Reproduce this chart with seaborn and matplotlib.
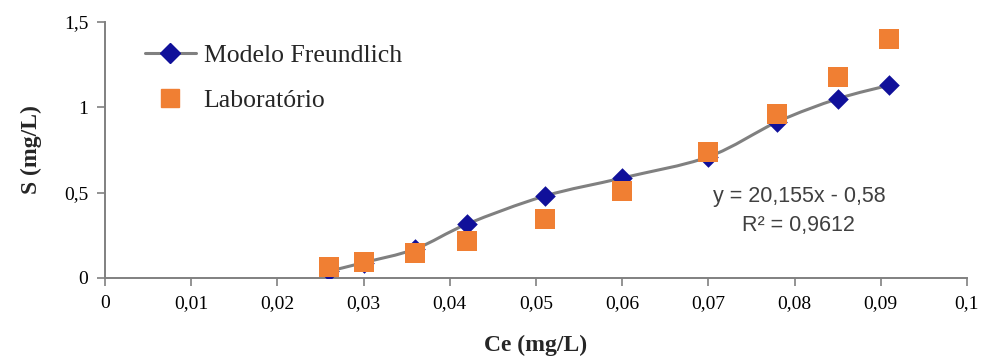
import numpy as np
import pandas as pd
import matplotlib
matplotlib.use("Agg")
import matplotlib.pyplot as plt
import seaborn as sns
from matplotlib.path import Path
from matplotlib.patches import PathPatch
from matplotlib.lines import Line2D

ce = [0.026, 0.030, 0.036, 0.042, 0.051, 0.060, 0.070, 0.078, 0.085, 0.091]
s_freundlich = [0.04, 0.09, 0.17, 0.316, 0.48, 0.586, 0.71, 0.915, 1.05, 1.13]
s_lab = [0.064, 0.094, 0.146, 0.217, 0.346, 0.51, 0.738, 0.96, 1.18, 1.40]
x_ticks = [0, 0.01, 0.02, 0.03, 0.04, 0.05, 0.06, 0.07, 0.08, 0.09, 0.1]
x_tick_labels = ["0", "0,01", "0,02", "0,03", "0,04", "0,05", "0,06", "0,07", "0,08", "0,09", "0,1"]
y_ticks = [0, 0.5, 1, 1.5]
y_tick_labels = ["0", "0,5", "1", "1,5"]
equation = "y = 20,155x - 0,58"
r2_text = "R² = 0,9612"

sns.set_theme(style="white")
plt.rcParams['font.family'] = ['Liberation Serif', 'DejaVu Serif']

fig = plt.figure(figsize=(9.84, 3.58), dpi=100)
ax = fig.add_axes([0.1067, 0.2235, 0.876, 0.715])

df = pd.DataFrame({"ce": ce, "freund": s_freundlich, "lab": s_lab})

# smooth line (Excel-style smoothing via Catmull-Rom -> Bezier)
xs = np.array(ce); ys = np.array(s_freundlich)
verts = [(xs[0], ys[0])]
codes = [Path.MOVETO]
t = 1.0 / 6.0
for i in range(len(xs) - 1):
    p0 = (xs[i - 1], ys[i - 1]) if i > 0 else (xs[i], ys[i])
    p1 = (xs[i], ys[i]); p2 = (xs[i + 1], ys[i + 1])
    p3 = (xs[i + 2], ys[i + 2]) if i + 2 < len(xs) else p2
    c1 = (p1[0] + (p2[0] - p0[0]) * t, p1[1] + (p2[1] - p0[1]) * t)
    c2 = (p2[0] - (p3[0] - p1[0]) * t, p2[1] - (p3[1] - p1[1]) * t)
    verts += [c1, c2, p2]
    codes += [Path.CURVE4] * 3
ax.add_patch(PathPatch(Path(verts, codes), facecolor="none", edgecolor="#808080", lw=2.2, zorder=2))

sns.scatterplot(data=df, x="ce", y="freund", ax=ax, marker="D", s=110, color="#10109A",
                edgecolor="#10109A", linewidth=0, zorder=3)
sns.scatterplot(data=df, x="ce", y="lab", ax=ax, marker="s", s=190, color="#F07F33",
                edgecolor="#F07F33", linewidth=0, zorder=4)

ax.set_xlim(0, 0.1)
ax.set_ylim(0, 1.5)
ax.set_xticks(x_ticks)
ax.set_xticklabels(x_tick_labels)
ax.set_yticks(y_ticks)
ax.set_yticklabels(y_tick_labels)
ax.tick_params(axis="both", which="both", direction="out", length=6, width=1.2,
               color="#808080", labelsize=14, labelcolor="black", bottom=True, left=True, pad=6)
for side in ["top", "right"]:
    ax.spines[side].set_visible(False)
for side in ["left", "bottom"]:
    ax.spines[side].set_color("#808080")
    ax.spines[side].set_linewidth(1.4)
ax.grid(False)

ax.set_xlabel("Ce (mg/L)", fontsize=17, fontweight="bold", labelpad=17)
ax.set_ylabel("S (mg/L)", fontsize=17, fontweight="bold", labelpad=16)

ax.text(0.0805, 0.475, equation, fontsize=15.5, family=["Liberation Sans"], color="#404040", ha="center", va="center")
ax.text(0.0805, 0.305, r2_text, fontsize=15.5, family=["Liberation Sans"], color="#404040", ha="center", va="center")

handles = [
    Line2D([0], [0], color="#808080", lw=2.2, marker="D", markersize=10,
           markerfacecolor="#10109A", markeredgecolor="#10109A"),
    Line2D([0], [0], color="none", marker="s", markersize=13,
           markerfacecolor="#F07F33", markeredgecolor="#F07F33"),
]
ax.legend(handles, ["Modelo Freundlich", "Laboratório"], loc="upper left",
          bbox_to_anchor=(0.034, 0.953), frameon=False, fontsize=18.5, handlelength=2.0,
          handletextpad=0.3, labelspacing=0.85, borderaxespad=0)

fig.savefig("out.png", dpi=100)
